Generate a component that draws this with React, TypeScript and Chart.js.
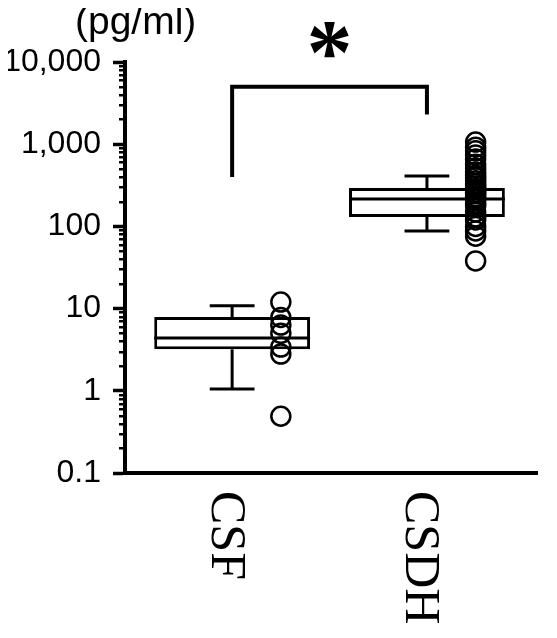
import React, { useEffect, useRef } from 'react';
import { Chart, registerables } from 'chart.js';

Chart.register(...registerables);

// ---- data ----
const categories = ['CSF', 'CSDH'];
const categoryX = [1, 2];
const whiskerLow = [1.05, 88];
const quartile1 = [3.2, 130];
const medians = [4.4, 215];
const quartile3 = [7.9, 293];
const whiskerHigh = [10.8, 410];
const csfValues = [12, 7.8, 6.3, 5.0, 3.4, 2.8, 0.49];
const csdhValues = [
  1060, 920, 830, 740, 660, 570, 510, 460, 420, 390, 360, 330, 310, 290, 280,
  260, 250, 230, 220, 210, 190, 180, 150, 130, 120, 100, 88, 76, 38,
];
const yTickValues = [0.1, 1, 10, 100, 1000, 10000];
const yTickLabels = ['0.1', '1', '10', '100', '1,000', '10,000'];
const minorMultipliers = [2, 3, 4, 5, 6, 7, 8, 9];
const bracketLow = [400, 2300];
const bracketTop = 5000;
const significanceMark = '*';
const unitLabel = '(pg/ml)';

// ---- layout constants (not data) ----
const pointOffset = 0.25;
const boxHalf = 0.4;
const capHalf = 0.115;

const overlayPlugin = {
  id: 'overlay',
  afterDatasetsDraw(chart: any) {
    const { ctx, scales } = chart;
    const x = scales.x;
    const y = scales.y;
    ctx.save();
    ctx.strokeStyle = '#000';
    ctx.lineWidth = 3;
    ctx.lineCap = 'butt';
    categoryX.forEach((cx, i) => {
      const px = x.getPixelForValue(cx);
      const l = x.getPixelForValue(cx - boxHalf);
      const r = x.getPixelForValue(cx + boxHalf);
      const cl = x.getPixelForValue(cx - capHalf);
      const cr = x.getPixelForValue(cx + capHalf);
      const pm = y.getPixelForValue(medians[i]);
      const pq1 = y.getPixelForValue(quartile1[i]);
      const pq3 = y.getPixelForValue(quartile3[i]);
      const ph = y.getPixelForValue(whiskerHigh[i]);
      const pl = y.getPixelForValue(whiskerLow[i]);
      ctx.beginPath();
      ctx.moveTo(l, pm);
      ctx.lineTo(r, pm);
      ctx.moveTo(px, pq3);
      ctx.lineTo(px, ph);
      ctx.moveTo(cl, ph);
      ctx.lineTo(cr, ph);
      ctx.moveTo(px, pq1);
      ctx.lineTo(px, pl);
      ctx.moveTo(cl, pl);
      ctx.lineTo(cr, pl);
      ctx.stroke();
    });
    ctx.restore();
  },
  afterDraw(chart: any) {
    const { ctx, scales, chartArea } = chart;
    const x = scales.x;
    const y = scales.y;
    ctx.save();
    // minor ticks
    ctx.strokeStyle = '#000';
    ctx.lineWidth = 2.5;
    ctx.beginPath();
    yTickValues.slice(0, -1).forEach((d) => {
      minorMultipliers.forEach((m) => {
        const py = Math.round(y.getPixelForValue(d * m)) + 0.25;
        ctx.moveTo(chartArea.left - 6, py);
        ctx.lineTo(chartArea.left, py);
      });
    });
    ctx.stroke();

    // unit label
    ctx.fillStyle = '#000';
    ctx.font = '39px "Liberation Sans", Arial, sans-serif';
    ctx.textAlign = 'left';
    ctx.textBaseline = 'alphabetic';
    ctx.fillText(unitLabel, chartArea.left - 50, chartArea.top - 28);

    // significance mark
    ctx.font = 'bold 100px "Liberation Serif", serif';
    const m = ctx.measureText(significanceMark);
    const h = m.actualBoundingBoxAscent + m.actualBoundingBoxDescent;
    const size = h > 0 ? (100 * 35) / h : 85;
    ctx.font = `bold ${size}px "Liberation Serif", serif`;
    const m2 = ctx.measureText(significanceMark);
    const cy = chartArea.top - 22;
    const baseline = cy + (m2.actualBoundingBoxAscent - m2.actualBoundingBoxDescent) / 2;
    ctx.textAlign = 'center';
    ctx.fillText(significanceMark, x.getPixelForValue((categoryX[0] + categoryX[1]) / 2), baseline);

    // category labels, rotated clockwise
    ctx.font = '50px "Liberation Serif", "Times New Roman", serif';
    ctx.textAlign = 'left';
    ctx.textBaseline = 'alphabetic';
    categories.forEach((label, i) => {
      const px = x.getPixelForValue(categoryX[i]) - 4;
      ctx.save();
      ctx.translate(px, chartArea.bottom + 18);
      ctx.rotate(Math.PI / 2);
      ctx.fillText(label, 0, 16.5);
      ctx.restore();
    });
    ctx.restore();
  },
};

export default function App() {
  const canvasRef = useRef<HTMLCanvasElement | null>(null);

  useEffect(() => {
    if (!canvasRef.current) return;
    const chart = new Chart(canvasRef.current, {
      type: 'bar',
      data: {
        datasets: [
          {
            type: 'scatter',
            label: 'CSF points',
            data: csfValues.map((v) => ({ x: categoryX[0] + pointOffset, y: v })),
            pointStyle: 'circle',
            pointRadius: 9.5,
            pointBorderWidth: 2.5,
            pointBorderColor: '#000',
            pointBackgroundColor: 'rgba(0,0,0,0)',
            showLine: false,
          } as any,
          {
            type: 'scatter',
            label: 'CSDH points',
            data: csdhValues.map((v) => ({ x: categoryX[1] + pointOffset, y: v })),
            pointStyle: 'circle',
            pointRadius: 9.5,
            pointBorderWidth: 2.5,
            pointBorderColor: '#000',
            pointBackgroundColor: 'rgba(0,0,0,0)',
            showLine: false,
          } as any,
          {
            type: 'line',
            label: 'bracket',
            data: [
              { x: categoryX[0], y: bracketLow[0] },
              { x: categoryX[0], y: bracketTop },
              { x: categoryX[1], y: bracketTop },
              { x: categoryX[1], y: bracketLow[1] },
            ],
            borderColor: '#000',
            borderWidth: 4,
            pointRadius: 0,
            fill: false,
            tension: 0,
            borderJoinStyle: 'miter',
            borderCapStyle: 'butt',
          } as any,
          {
            type: 'bar',
            label: 'box',
            data: categoryX.map((cx, i) => ({ x: cx, y: [quartile1[i], quartile3[i]] })),
            backgroundColor: '#fff',
            borderColor: '#000',
            borderWidth: 3,
            borderSkipped: false,
            categoryPercentage: 0.8,
            barPercentage: 1,
          } as any,
        ],
      },
      options: {
        animation: false,
        responsive: true,
        maintainAspectRatio: false,
        layout: { padding: { top: 54, right: 0, left: 0, bottom: 0 } },
        plugins: {
          legend: { display: false },
          tooltip: { enabled: false },
        },
        scales: {
          x: {
            type: 'linear',
            min: 0.45,
            max: 2.565,
            offset: false,
            grid: { display: false, offset: false },
            ticks: { display: false },
            border: { display: true, color: '#000', width: 4 },
            afterBuildTicks: (scale: any) => {
              scale.ticks = categoryX.map((v) => ({ value: v }));
            },
            afterFit: (scale: any) => {
              scale.height = 157;
            },
          },
          y: {
            type: 'logarithmic',
            min: 0.1,
            max: 10000,
            grid: {
              display: true,
              drawOnChartArea: false,
              drawTicks: true,
              tickLength: 12,
              tickWidth: 3.5,
              tickColor: '#000',
            },
            border: { display: true, color: '#000', width: 4 },
            afterBuildTicks: (scale: any) => {
              scale.ticks = yTickValues.map((v) => ({ value: v }));
            },
            ticks: {
              color: '#000',
              padding: 12,
              font: { family: '"Liberation Sans", Arial, sans-serif', size: 32 },
              callback: (_v: any, index: number) => yTickLabels[index],
            },
            afterFit: (scale: any) => {
              scale.width = 117;
            },
          },
        },
      } as any,
      plugins: [overlayPlugin],
    });
    return () => chart.destroy();
  }, []);

  return (
    <div style={{ width: 541, height: 622, position: 'relative' }}>
      <canvas ref={canvasRef} />
    </div>
  );
}
